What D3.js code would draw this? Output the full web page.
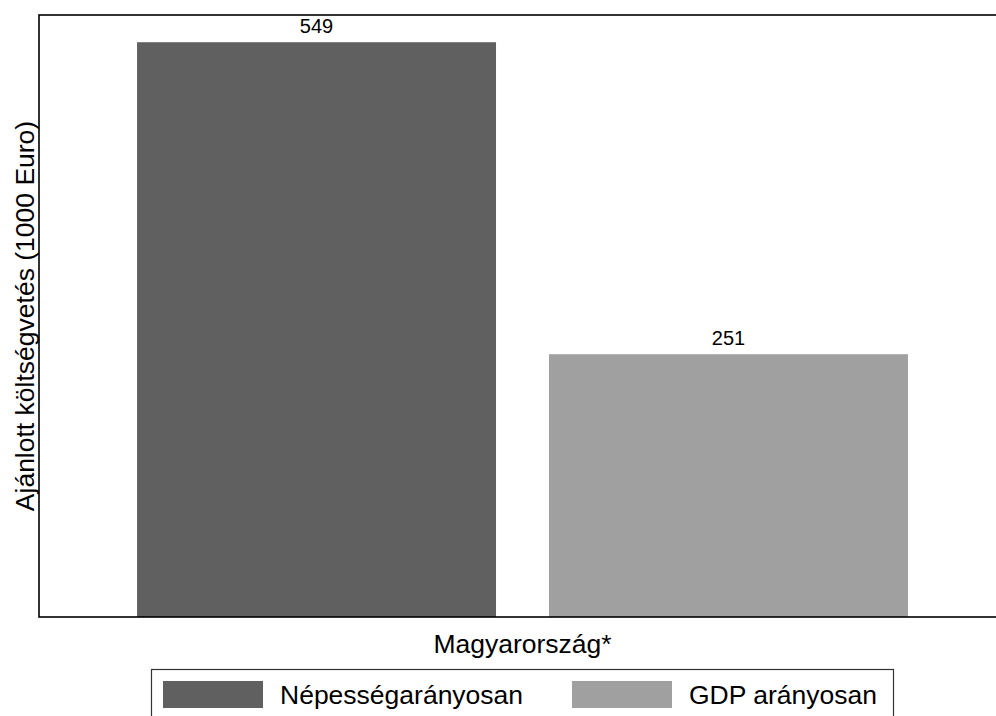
<!DOCTYPE html>
<html>
<head>
<meta charset="utf-8">
<script src="https://cdn.jsdelivr.net/npm/d3@7"></script>
<style>
  html, body { margin: 0; padding: 0; background: #fff; overflow: hidden; }
  svg { display: block; font-family: "Liberation Sans", Arial, Helvetica, sans-serif; }
</style>
</head>
<body>
<script>
// Recommended budget for Hungary, two allocation methods
const series = ["Népességarányosan", "GDP arányosan"];
const values = [549, 251];
const colors = ["#606060", "#a0a0a0"];
const groupLabel = "Magyarország*";
const yTitle = "Ajánlott költségvetés (1000 Euro)";
const yDomainMax = 575;

const W = 996, H = 716;
const plot = { left: 39, top: 15, right: 1006, bottom: 617 };

const svg = d3.select("body").append("svg")
  .attr("width", W).attr("height", H);

const x = d3.scaleBand()
  .domain(series)
  .range([plot.left, plot.right])
  .paddingInner(0.1286)
  .paddingOuter(0.238);

const y = d3.scaleLinear()
  .domain([0, yDomainMax])
  .range([plot.bottom, plot.top]);

// bars
svg.append("g").selectAll("rect")
  .data(series)
  .join("rect")
  .attr("x", d => x(d))
  .attr("width", x.bandwidth())
  .attr("y", (d, i) => y(values[i]))
  .attr("height", (d, i) => y(0) - y(values[i]))
  .attr("fill", (d, i) => colors[i]);

// value labels
svg.append("g").selectAll("text")
  .data(series)
  .join("text")
  .attr("x", d => x(d) + x.bandwidth() / 2)
  .attr("y", (d, i) => y(values[i]) - 9)
  .attr("text-anchor", "middle")
  .attr("font-size", 20)
  .attr("fill", "#000")
  .text((d, i) => values[i]);

// plot frame
svg.append("rect")
  .attr("x", plot.left).attr("y", plot.top)
  .attr("width", plot.right - plot.left)
  .attr("height", plot.bottom - plot.top)
  .attr("fill", "none")
  .attr("stroke", "#000")
  .attr("stroke-width", 1.6);

// y axis title
svg.append("text")
  .attr("transform", `translate(34, ${(plot.top + plot.bottom) / 2}) rotate(-90)`)
  .attr("text-anchor", "middle")
  .attr("font-size", 26.5)
  .attr("fill", "#000")
  .text(yTitle);

// x axis group label
svg.append("text")
  .attr("x", (plot.left + plot.right) / 2)
  .attr("y", 653)
  .attr("text-anchor", "middle")
  .attr("font-size", 26.5)
  .attr("fill", "#000")
  .text(groupLabel);

// legend
const legend = svg.append("g");
legend.append("rect")
  .attr("x", 151.5).attr("y", 669.5)
  .attr("width", 742).attr("height", 80)
  .attr("fill", "#fff")
  .attr("stroke", "#333")
  .attr("stroke-width", 1.2);

const legendX = [163, 572];
const items = legend.selectAll("g.item")
  .data(series)
  .join("g")
  .attr("class", "item")
  .attr("transform", (d, i) => `translate(${legendX[i]}, 681)`);

items.append("rect")
  .attr("width", 100).attr("height", 27)
  .attr("fill", (d, i) => colors[i]);

items.append("text")
  .attr("x", 117)
  .attr("y", 23)
  .attr("font-size", 26.5)
  .attr("fill", "#000")
  .text(d => d);
</script>
</body>
</html>
